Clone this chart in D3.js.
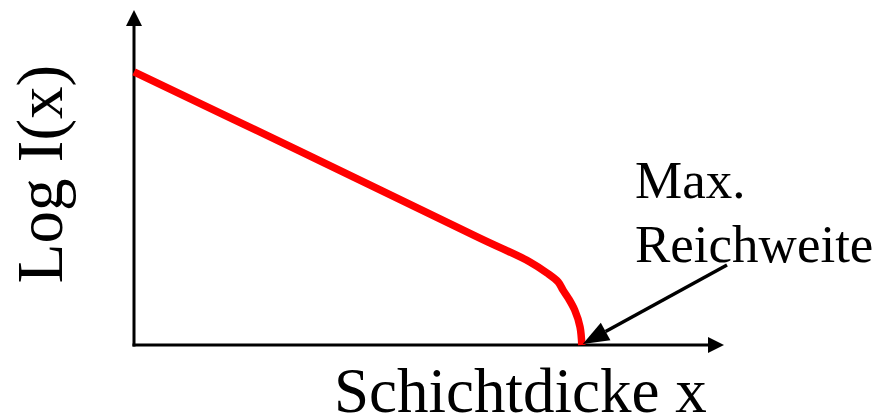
<!DOCTYPE html>
<html>
<head>
<meta charset="utf-8">
<script src="https://cdn.jsdelivr.net/npm/d3@7"></script>
<style>
  html, body { margin: 0; padding: 0; background: #fff; }
  svg { display: block; }
  text { font-family: "Liberation Serif", "Times New Roman", serif; fill: #000; }
</style>
</head>
<body>
<svg id="chart" width="878" height="419"></svg>
<script>
// Schichtdicke x (arbitrary units) and log I(x) (arbitrary units)
const thickness = [0, 2.81, 5.86, 6.71, 7.0, 7.19, 7.27, 7.36, 7.47, 7.56, 7.59];
const logIntensity = [8.15, 5.79, 3.19, 2.48, 2.15, 1.88, 1.64, 1.40, 1.04, 0.54, 0];

const xLabel = "Schichtdicke x";
const yLabel = "Log I(x)";
const noteLines = ["Max.", "Reichweite"];

const svg = d3.select("#chart");

const x = d3.scaleLinear().domain([0, 10]).range([134, 724]);
const y = d3.scaleLinear().domain([0, 10]).range([345, 10]);

const x0 = x(0), y0 = y(0);

// axes with arrowheads
svg.append("line")
  .attr("x1", x0).attr("y1", y0 + 1.5)
  .attr("x2", x0).attr("y2", y(10) + 12)
  .attr("stroke", "#000").attr("stroke-width", 3);
svg.append("path")
  .attr("d", `M${x0},${y(10)} L${x0 - 8},${y(10) + 16} L${x0 + 8},${y(10) + 16} Z`)
  .attr("fill", "#000");

svg.append("line")
  .attr("x1", x0 - 1.5).attr("y1", y0)
  .attr("x2", x(10) - 12).attr("y2", y0)
  .attr("stroke", "#000").attr("stroke-width", 3);
svg.append("path")
  .attr("d", `M${x(10)},${y0} L${x(10) - 16},${y0 - 8} L${x(10) - 16},${y0 + 8} Z`)
  .attr("fill", "#000");

// intensity curve
const pts = thickness.map((t, i) => [t, logIntensity[i]]);
const line = d3.line()
  .x(d => x(d[0]))
  .y(d => y(d[1]))
  .curve(d3.curveCatmullRom.alpha(0.5));

svg.append("path")
  .datum(pts)
  .attr("d", line)
  .attr("fill", "none")
  .attr("stroke", "#ff0000")
  .attr("stroke-width", 7.5)
  .attr("stroke-linejoin", "round");

// axis titles
svg.append("text")
  .attr("x", 334).attr("y", 412)
  .attr("font-size", 63)
  .text(xLabel);

svg.append("text")
  .attr("transform", `translate(62,174) rotate(-90)`)
  .attr("text-anchor", "middle")
  .attr("font-size", 65)
  .text(yLabel);

// maximum range annotation
const end = pts[pts.length - 1];
const tipX = x(end[0]) + 1, tipY = y(end[1]) - 1;
const startX = 727, startY = 265;
const ang = Math.atan2(tipY - startY, tipX - startX);
const headLen = 26, headHalf = 10;
const bx = tipX - headLen * Math.cos(ang), by = tipY - headLen * Math.sin(ang);
svg.append("line")
  .attr("x1", startX).attr("y1", startY)
  .attr("x2", bx).attr("y2", by)
  .attr("stroke", "#000").attr("stroke-width", 3.5);
svg.append("path")
  .attr("d", `M${tipX},${tipY} L${bx + headHalf * Math.sin(ang)},${by - headHalf * Math.cos(ang)} L${bx - headHalf * Math.sin(ang)},${by + headHalf * Math.cos(ang)} Z`)
  .attr("fill", "#000");

svg.append("text")
  .attr("font-size", 53)
  .selectAll("tspan")
  .data(noteLines)
  .join("tspan")
  .attr("x", 635)
  .attr("y", (d, i) => 198 + i * 64)
  .text(d => d);
</script>
</body>
</html>
